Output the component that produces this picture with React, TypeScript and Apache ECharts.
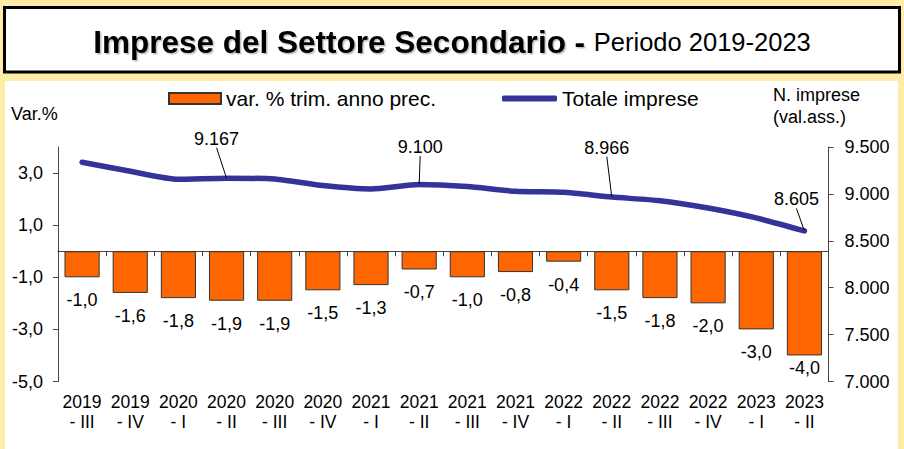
import React, { useEffect, useRef } from 'react';
import * as echarts from 'echarts';

const categories = [
  '2019\n- III', '2019\n- IV', '2020\n- I', '2020\n- II', '2020\n- III', '2020\n- IV',
  '2021\n- I', '2021\n- II', '2021\n- III', '2021\n- IV', '2022\n- I', '2022\n- II',
  '2022\n- III', '2022\n- IV', '2023\n- I', '2023\n- II',
];
const varPct = [-1.0, -1.6, -1.8, -1.9, -1.9, -1.5, -1.3, -0.7, -1.0, -0.8, -0.4, -1.5, -1.8, -2.0, -3.0, -4.0];
const totaleImprese = [9338, 9241, 9155, 9167, 9160, 9089, 9053, 9100, 9078, 9028, 9017, 8966, 8928, 8850, 8744, 8605];
const leftTicks = [-5, -3, -1, 1, 3];
const labeledPoints = [3, 7, 11, 15];

const fmtThousands = (v: number) => String(Math.round(v)).replace(/\B(?=(\d{3})+(?!\d))/g, '.');
const fmtDec = (v: number) => v.toFixed(1).replace('.', ',');

export default function App() {
  const ref = useRef<HTMLDivElement>(null);
  useEffect(() => {
    document.body.style.margin = '0';
    const chart = echarts.init(ref.current!, null, { renderer: 'svg' });
    const font = "Arial, 'Liberation Sans', sans-serif";
    const labelOffsets: Record<number, [number, number]> = {
      3: [-10, -25],
      7: [1, -23],
      11: [-5, -35],
      15: [-8, -17],
    };
    const axisColor = '#444';
    chart.setOption({
      animation: false,
      backgroundColor: '#FFECA6',
      textStyle: { fontFamily: font },
      graphic: [
        { type: 'rect', z: -10, shape: { x: 5, y: 81, width: 893, height: 368 }, style: { fill: '#fff' } },
        {
          type: 'rect', z: -5,
          shape: { x: 4.5, y: 7.5, width: 895, height: 64.5 },
          style: { fill: '#fff', stroke: '#000', lineWidth: 3 },
        },
        {
          type: 'text', x: 452, y: 42,
          style: {
            text: '{b|Imprese del Settore Secondario - }{r|Periodo 2019-2023}',
            align: 'center', verticalAlign: 'middle',
            rich: {
              b: {
                fontFamily: font, fontWeight: 'bold', fontSize: 31.5, fill: '#000',
                textShadowColor: 'rgba(0,0,0,0.25)', textShadowOffsetX: 1.5, textShadowOffsetY: 1.5, textShadowBlur: 1,
              },
              r: { fontFamily: font, fontSize: 25.5, fill: '#000' },
            },
          },
        },
        {
          type: 'text', x: 11, y: 114,
          style: { text: 'Var.%', fontFamily: font, fontSize: 18, fill: '#000', verticalAlign: 'middle' },
        },
        {
          type: 'text', x: 773, y: 106,
          style: {
            text: 'N. imprese\n(val.ass.)', fontFamily: font, fontSize: 18, lineHeight: 22,
            fill: '#000', verticalAlign: 'middle',
          },
        },
      ],
      legend: [
        {
          left: 168, top: 88, padding: 0, itemWidth: 52, itemHeight: 11,
          data: [{ name: 'var. % trim. anno prec.', icon: 'rect' }],
          textStyle: { fontFamily: font, fontSize: 21, color: '#000' },
        },
        {
          left: 502, top: 88, padding: 0, itemWidth: 55, itemHeight: 6,
          data: [{ name: 'Totale imprese', icon: 'roundRect' }],
          textStyle: { fontFamily: font, fontSize: 21, color: '#000' },
        },
      ],
      grid: { left: 58, right: 75.5, top: 147, bottom: 67.5 },
      xAxis: [
        {
          type: 'category', data: categories, position: 'bottom',
          axisLine: { show: false, onZero: false }, axisTick: { show: false },
          axisLabel: { margin: 10, fontSize: 17.5, lineHeight: 20, color: '#000', fontFamily: font, interval: 0 },
        },
        {
          type: 'category', data: categories, position: 'bottom',
          axisLine: { show: true, onZero: true, lineStyle: { color: axisColor, width: 1 } },
          axisTick: { show: true, length: 5, lineStyle: { color: axisColor } },
          axisLabel: { show: false },
        },
      ],
      yAxis: [
        {
          type: 'value', min: -5, max: 4, interval: 2, splitLine: { show: false },
          axisLine: { show: true, lineStyle: { color: axisColor } },
          axisTick: { show: true, length: 5, lineStyle: { color: axisColor }, customValues: leftTicks },
          axisLabel: {
            margin: 15, fontSize: 18, color: '#000', fontFamily: font, customValues: leftTicks,
            formatter: (v: number) => fmtDec(v),
          },
        },
        {
          type: 'value', min: 7000, max: 9500, interval: 500, position: 'right', splitLine: { show: false },
          axisLine: { show: true, lineStyle: { color: axisColor } },
          axisTick: { show: true, length: 5, lineStyle: { color: axisColor } },
          axisLabel: {
            margin: 16, fontSize: 18, color: '#000', fontFamily: font,
            formatter: (v: number) => fmtThousands(v),
          },
        },
      ],
      series: [
        {
          name: 'var. % trim. anno prec.', type: 'bar', xAxisIndex: 0, yAxisIndex: 0,
          barCategoryGap: '27%',
          itemStyle: { color: '#FF6600', borderColor: '#333', borderWidth: 1 },
          data: varPct.map((v, i) => (i === varPct.length - 1 ? { value: v, label: { distance: 4 } } : v)),
          label: {
            show: true, position: 'bottom', distance: 14, fontSize: 18, color: '#000', fontFamily: font,
            formatter: (p: any) => fmtDec(p.value),
          },
        },
        {
          name: 'Totale imprese', type: 'line', xAxisIndex: 0, yAxisIndex: 1,
          symbol: 'circle', symbolSize: 1, showSymbol: true, smooth: 0.2, z: 5,
          lineStyle: { color: '#333399', width: 5.5, cap: 'round', join: 'round' },
          itemStyle: { color: '#333399' },
          data: totaleImprese.map((v, i) =>
            labeledPoints.includes(i) ? { value: v, label: { show: true } } : v,
          ),
          label: {
            show: false, position: 'top', distance: 5, fontSize: 18, color: '#000', fontFamily: font,
            formatter: (p: any) => fmtThousands(p.value),
          },
          labelLine: { show: true, lineStyle: { color: '#000', width: 1 } },
          labelLayout: (params: any) => {
            const o = labelOffsets[params.dataIndex];
            return o ? { dx: o[0], dy: o[1] } : {};
          },
        },
      ],
    });
    return () => chart.dispose();
  }, []);
  return <div ref={ref} style={{ width: 904, height: 449 }} />;
}
